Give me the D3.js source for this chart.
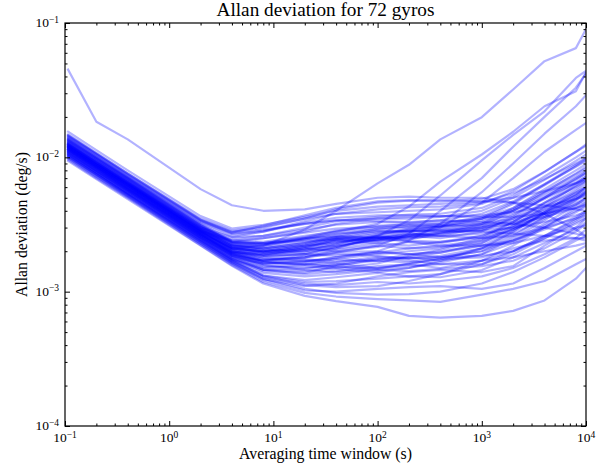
<!DOCTYPE html>
<html>
<head>
<meta charset="utf-8">
<script src="https://cdn.jsdelivr.net/npm/d3@7"></script>
<style>
  body { margin: 0; background: #fff; }
  text { font-family: "Liberation Serif", "DejaVu Serif", serif; fill: #000; }
</style>
</head>
<body>
<div id="chart"></div>
<script>
// averaging times (s)
var taus = [0.107, 0.2, 0.4, 2, 4, 8, 20, 40, 100, 200, 400, 1000, 2000, 4000, 8000, 10000];

// allan deviation per gyro, in mdeg/s
var lowGroup = [
  [9.4, 6.9, 4.9, 2.2, 1.56, 1.15, 0.93, 0.85, 0.77, 0.66, 0.64, 0.66, 0.72, 0.86, 1.25, 1.5],
  [9.6, 7.0, 5.0, 2.22, 1.58, 1.18, 0.98, 0.92, 0.88, 0.86, 0.84, 0.95, 1.05, 1.2, 1.6, 1.75],
  [10.0, 7.3, 5.2, 2.3, 1.64, 1.25, 1.05, 0.98, 0.95, 0.96, 1.0, 1.15, 1.4, 1.8, 2.4, 2.6],
  [9.8, 7.2, 5.1, 2.27, 1.62, 1.22, 1.02, 1.0, 1.05, 1.08, 1.1, 1.05, 1.15, 1.5, 2.0, 2.2],
  [10.3, 7.5, 5.3, 2.38, 1.7, 1.3, 1.12, 1.08, 1.1, 1.2, 1.35, 1.6, 2.0, 2.6, 3.4, 3.8],
  [10.1, 7.4, 5.2, 2.34, 1.66, 1.28, 1.15, 1.12, 1.18, 1.15, 1.2, 1.3, 1.5, 1.9, 2.5, 2.9],
  [10.5, 7.7, 5.4, 2.43, 1.72, 1.32, 1.18, 1.2, 1.25, 1.3, 1.28, 1.45, 1.8, 2.3, 2.9, 3.3],
  [9.9, 7.2, 5.1, 2.29, 1.63, 1.24, 1.1, 1.15, 1.3, 1.4, 1.45, 1.4, 1.55, 2.2, 3.0, 3.5]
];
var midGroupA = [
  [10.2, 7.5, 5.3, 2.36, 1.68, 1.32, 1.22, 1.28, 1.38, 1.3, 1.35, 1.7, 2.2, 3.0, 4.2, 4.6],
  [10.6, 7.7, 5.5, 2.45, 1.76, 1.5, 1.55, 1.48, 1.4, 1.5, 1.65, 1.9, 2.5, 3.4, 4.8, 5.5],
  [10.8, 7.9, 5.6, 2.5, 1.8, 1.46, 1.35, 1.42, 1.55, 1.6, 1.5, 1.7, 2.0, 2.6, 3.5, 3.9],
  [11.0, 8.0, 5.7, 2.54, 1.85, 1.6, 1.62, 1.55, 1.45, 1.5, 1.7, 2.1, 2.8, 3.8, 5.2, 6.0],
  [11.2, 8.2, 5.8, 2.59, 1.88, 1.58, 1.45, 1.4, 1.48, 1.62, 1.75, 1.8, 2.1, 2.4, 2.5, 2.4],
  [10.4, 7.6, 5.4, 2.4, 1.74, 1.42, 1.38, 1.55, 1.75, 1.8, 1.7, 1.9, 2.3, 3.1, 4.0, 4.4],
  [11.4, 8.3, 5.9, 2.63, 1.9, 1.65, 1.7, 1.62, 1.5, 1.55, 1.6, 1.6, 1.9, 2.5, 3.3, 3.6],
  [11.6, 8.5, 6.0, 2.68, 1.92, 1.66, 1.58, 1.66, 1.82, 1.78, 1.8, 2.0, 2.6, 3.6, 5.0, 5.6],
  [10.9, 8.0, 5.6, 2.52, 1.82, 1.52, 1.6, 1.75, 1.68, 1.8, 1.95, 2.2, 2.8, 3.9, 5.6, 6.3],
  [11.1, 8.1, 5.7, 2.56, 1.84, 1.56, 1.5, 1.6, 1.78, 1.7, 1.6, 1.7, 1.8, 2.0, 2.2, 2.3],
  [11.8, 8.6, 6.1, 2.73, 1.96, 1.7, 1.75, 1.68, 1.72, 1.9, 1.95, 2.3, 3.0, 4.2, 5.8, 6.6],
  [12.0, 8.8, 6.2, 2.77, 2.0, 1.75, 1.8, 1.92, 1.85, 1.75, 1.85, 2.1, 2.4, 3.0, 3.9, 4.3],
  [10.7, 7.8, 5.5, 2.47, 1.76, 1.45, 1.42, 1.5, 1.62, 1.85, 2.05, 2.4, 3.1, 4.3, 6.2, 7.0],
  [11.3, 8.3, 5.8, 2.61, 1.88, 1.62, 1.66, 1.8, 1.95, 1.9, 1.8, 1.85, 2.0, 2.5, 3.2, 3.5],
  [12.2, 8.9, 6.3, 2.82, 2.02, 1.78, 1.7, 1.75, 1.9, 2.0, 2.1, 2.5, 3.3, 4.6, 6.4, 7.2],
  [11.5, 8.4, 5.9, 2.66, 1.92, 1.72, 1.85, 1.98, 2.0, 1.9, 2.0, 2.2, 2.3, 2.6, 3.0, 3.1],
  [10.3, 7.5, 5.3, 2.38, 1.7, 1.38, 1.3, 1.35, 1.45, 1.42, 1.48, 1.55, 1.7, 2.1, 2.8, 3.2],
  [12.4, 9.1, 6.4, 2.87, 2.06, 1.85, 1.9, 1.85, 1.95, 2.1, 2.15, 2.3, 2.9, 3.9, 5.3, 5.9],
  [11.7, 8.6, 6.0, 2.7, 1.94, 1.68, 1.6, 1.52, 1.5, 1.6, 1.75, 2.1, 2.7, 3.5, 4.5, 4.9],
  [10.5, 7.7, 5.4, 2.43, 1.74, 1.46, 1.48, 1.58, 1.7, 1.65, 1.8, 2.0, 2.4, 3.2, 4.4, 5.0]
];
var midGroupB = [
  [11.0, 8.0, 5.7, 2.54, 1.9, 1.7, 1.8, 2.05, 2.2, 2.1, 2.2, 2.4, 2.9, 3.8, 5.0, 5.5],
  [11.5, 8.4, 5.9, 2.66, 1.98, 1.9, 2.1, 2.0, 2.15, 2.35, 2.3, 2.6, 3.3, 4.5, 6.1, 6.8],
  [12.0, 8.8, 6.2, 2.77, 2.1, 2.0, 2.2, 2.4, 2.3, 2.2, 2.35, 2.5, 2.9, 3.6, 4.6, 5.0],
  [12.5, 9.1, 6.5, 2.89, 2.15, 1.95, 1.95, 2.15, 2.45, 2.6, 2.5, 2.8, 3.6, 5.0, 7.0, 7.8],
  [11.8, 8.6, 6.1, 2.73, 2.05, 1.95, 2.15, 2.35, 2.5, 2.35, 2.2, 2.2, 2.4, 2.9, 3.6, 4.0],
  [12.8, 9.4, 6.6, 2.96, 2.2, 2.05, 2.0, 2.1, 2.3, 2.55, 2.7, 2.9, 3.5, 4.6, 6.0, 6.6],
  [13.0, 9.5, 6.7, 3.0, 2.25, 2.15, 2.35, 2.5, 2.4, 2.45, 2.7, 3.1, 4.0, 5.5, 7.6, 8.5],
  [11.3, 8.3, 5.8, 2.61, 1.95, 1.85, 2.05, 2.3, 2.55, 2.7, 2.6, 2.7, 3.0, 3.7, 4.8, 5.3],
  [12.2, 8.9, 6.3, 2.82, 2.12, 2.0, 2.1, 2.2, 2.45, 2.7, 2.6, 2.5, 2.6, 3.0, 3.5, 3.7],
  [13.3, 9.7, 6.9, 3.07, 2.3, 2.25, 2.45, 2.6, 2.5, 2.55, 2.75, 3.2, 4.2, 5.8, 8.0, 8.9],
  [12.6, 9.2, 6.5, 2.91, 2.18, 2.1, 2.3, 2.45, 2.7, 2.8, 2.85, 3.0, 3.4, 4.1, 5.2, 5.7],
  [11.6, 8.5, 6.0, 2.68, 2.0, 1.85, 1.9, 2.15, 2.5, 2.8, 2.95, 3.2, 3.8, 4.9, 6.5, 7.2],
  [13.6, 9.9, 7.0, 3.14, 2.35, 2.3, 2.5, 2.55, 2.5, 2.65, 2.8, 2.9, 3.2, 3.9, 4.9, 5.4],
  [12.1, 8.8, 6.3, 2.8, 2.1, 2.0, 2.2, 2.5, 2.75, 2.85, 2.85, 2.8, 2.7, 2.6, 2.5, 2.5],
  [12.9, 9.4, 6.7, 2.98, 2.22, 2.1, 2.2, 2.3, 2.6, 2.9, 3.05, 3.3, 4.0, 5.2, 6.9, 7.6],
  [11.9, 8.7, 6.2, 2.75, 2.05, 1.9, 2.0, 2.25, 2.65, 2.95, 3.05, 3.1, 3.3, 3.8, 4.4, 4.7],
  [13.4, 9.8, 6.9, 3.1, 2.32, 2.25, 2.5, 2.7, 2.8, 2.85, 3.05, 3.5, 4.5, 6.2, 8.6, 9.6],
  [12.4, 9.1, 6.4, 2.87, 2.15, 2.05, 2.25, 2.55, 2.85, 2.8, 2.9, 3.0, 3.2, 3.6, 4.2, 4.5],
  [13.1, 9.6, 6.8, 3.03, 2.26, 2.2, 2.45, 2.7, 2.9, 3.0, 3.1, 3.4, 4.1, 5.4, 7.2, 8.0],
  [12.7, 9.3, 6.6, 2.94, 2.2, 2.1, 2.3, 2.6, 2.95, 3.1, 3.1, 3.2, 3.5, 4.3, 5.5, 6.0],
  [11.4, 8.3, 5.9, 2.64, 1.98, 1.88, 2.1, 2.45, 2.6, 2.4, 2.35, 2.6, 3.1, 4.0, 5.4, 6.0],
  [13.8, 10.1, 7.1, 3.19, 2.4, 2.35, 2.6, 2.8, 3.0, 3.05, 3.2, 3.6, 4.6, 6.3, 8.8, 9.8],
  [12.3, 9.0, 6.4, 2.85, 2.12, 1.98, 2.05, 2.2, 2.4, 2.6, 2.75, 2.85, 3.0, 3.3, 3.7, 3.9],
  [13.5, 9.9, 7.0, 3.12, 2.35, 2.3, 2.55, 2.85, 3.1, 3.15, 3.2, 3.5, 4.2, 5.6, 7.5, 8.3],
  [12.0, 8.8, 6.2, 2.77, 2.08, 1.96, 2.15, 2.4, 2.55, 2.5, 2.6, 3.0, 3.7, 5.0, 6.8, 7.6]
];
var highMid = [
  [12.0, 8.8, 6.2, 2.85, 2.4, 2.5, 2.75, 2.95, 3.05, 3.2, 3.3, 3.5, 4.0, 5.0, 6.4, 7.0],
  [13.7, 10.0, 7.1, 3.22, 2.55, 2.6, 2.9, 3.15, 3.3, 3.25, 3.4, 3.8, 4.7, 6.3, 8.5, 9.4],
  [14.2, 10.4, 7.3, 3.35, 2.7, 2.85, 3.2, 3.4, 3.35, 3.3, 3.4, 3.3, 3.2, 3.0, 2.7, 2.6],
  [11.8, 8.6, 6.1, 2.8, 2.35, 2.5, 2.8, 3.2, 3.5, 3.5, 3.6, 4.0, 5.0, 6.8, 9.4, 10.5],
  [14.5, 10.6, 7.5, 3.42, 2.75, 2.9, 3.2, 3.4, 3.5, 3.6, 3.65, 3.7, 3.9, 4.3, 4.9, 5.2],
  [12.3, 9.0, 6.4, 2.92, 2.45, 2.6, 3.0, 3.35, 3.6, 3.75, 3.8, 4.2, 5.2, 7.2, 10.0, 11.2],
  [14.0, 10.2, 7.2, 3.3, 2.65, 2.8, 3.25, 3.55, 3.7, 3.7, 3.65, 3.6, 3.6, 3.8, 4.2, 4.4],
  [14.8, 10.8, 7.6, 3.5, 2.85, 3.05, 3.5, 3.8, 3.9, 4.0, 4.1, 4.5, 5.6, 7.8, 11.0, 12.2],
  [12.6, 9.2, 6.5, 3.0, 2.55, 2.8, 3.35, 3.8, 4.1, 4.25, 4.3, 4.6, 5.4, 6.9, 9.0, 9.9],
  [15.5, 11.3, 8.0, 3.65, 2.95, 3.15, 3.6, 4.0, 4.3, 4.4, 4.5, 4.7, 5.0, 5.6, 6.4, 6.8],
  [14.6, 10.7, 7.6, 3.45, 2.8, 3.0, 3.5, 4.1, 4.6, 4.75, 4.7, 4.9, 5.8, 7.8, 11.0, 12.5],
  [14.3, 10.5, 7.4, 3.38, 2.75, 3.1, 3.7, 4.2, 4.7, 4.8, 4.8, 4.7, 4.6, 4.4, 4.1, 4.0]
];
var risers = [
  [12.0, 8.8, 6.2, 2.77, 2.1, 2.2, 2.9, 4.0, 6.4, 8.8, 13.6, 19.9, 32.0, 52.0, 65.0, 90.0],
  [11.5, 8.4, 5.9, 2.66, 1.95, 1.8, 1.9, 2.1, 2.6, 3.4, 5.2, 9.5, 14.7, 22.0, 39.0, 44.0],
  [12.6, 9.2, 6.5, 2.91, 2.2, 2.2, 2.5, 2.8, 3.2, 4.3, 6.6, 10.5, 15.5, 24.0, 31.0, 43.0],
  [11.0, 8.0, 5.7, 2.54, 1.85, 1.7, 1.8, 1.95, 2.2, 2.7, 4.0, 7.0, 12.0, 20.0, 33.0, 42.0],
  [10.8, 7.9, 5.6, 2.5, 1.8, 1.62, 1.68, 1.8, 2.0, 2.4, 3.2, 5.5, 9.0, 15.0, 24.0, 29.0],
  [13.2, 9.7, 6.8, 3.05, 2.3, 2.3, 2.4, 2.45, 2.4, 2.6, 3.0, 4.6, 7.0, 11.0, 16.0, 18.0]
];
var outlier = [
  [45.0, 18.4, 13.6, 5.8, 4.4, 4.0, 4.1, 4.5, 5.0, 5.1, 5.0, 5.0, 4.6, 3.8, 2.9, 2.6]
];

var xTickExps = [-1, 0, 1, 2, 3, 4];
var yTickExps = [-4, -3, -2, -1];
var mdeg = 1e-3;

var gyros = [].concat(outlier, lowGroup, midGroupA, midGroupB, highMid, risers);

var W = 607, H = 466;
var margin = {top: 23, right: 21, bottom: 40, left: 65},
    width = W - margin.left - margin.right,
    height = H - margin.top - margin.bottom;

var svg = d3.select("#chart").append("svg")
    .attr("width", W)
    .attr("height", H);

var x = d3.scaleLog().domain([1e-1, 1e4]).range([0, width]);
var y = d3.scaleLog().domain([1e-4, 1e-1]).range([height, 0]);

var g = svg.append("g")
    .attr("transform", "translate(" + margin.left + "," + margin.top + ")");

g.append("clipPath").attr("id", "clip")
  .append("rect").attr("width", width).attr("height", height);

var line = d3.line()
    .x(function (d) { return x(d[0]); })
    .y(function (d) { return y(d[1] * mdeg); });

g.append("g").attr("clip-path", "url(#clip)")
  .selectAll("path")
  .data(gyros)
  .enter().append("path")
    .attr("d", function (vals) {
        return line(vals.map(function (v, i) { return [taus[i], v]; }));
    })
    .attr("fill", "none")
    .attr("stroke", "#0000ff")
    .attr("stroke-opacity", 0.3)
    .attr("stroke-width", 2.2)
    .attr("stroke-linejoin", "round")
    .attr("stroke-linecap", "square");

// minor / major tick positions
function minors(lo, hi) {
    var out = [];
    for (var e = lo; e < hi; e++)
        for (var k = 2; k <= 9; k++) out.push(k * Math.pow(10, e));
    return out;
}
var xMajor = xTickExps.map(function (e) { return Math.pow(10, e); });
var yMajor = yTickExps.map(function (e) { return Math.pow(10, e); });
var xMinor = minors(-1, 4), yMinor = minors(-4, -1);

function tickAxis(axisFn, scale, vals, size, tx, ty) {
    var a = axisFn(scale).tickValues(vals).tickSizeInner(-size).tickSizeOuter(0).tickFormat("");
    var sel = g.append("g").attr("transform", "translate(" + tx + "," + ty + ")").call(a);
    sel.select(".domain").remove();
    sel.selectAll("line").attr("stroke", "#000").attr("stroke-width", 1);
}
tickAxis(d3.axisBottom, x, xMajor, 5, 0, height);
tickAxis(d3.axisBottom, x, xMinor, 2.5, 0, height);
tickAxis(d3.axisTop, x, xMajor, 5, 0, 0);
tickAxis(d3.axisTop, x, xMinor, 2.5, 0, 0);
tickAxis(d3.axisLeft, y, yMajor, 5, 0, 0);
tickAxis(d3.axisLeft, y, yMinor, 2.5, 0, 0);
tickAxis(d3.axisRight, y, yMajor, 5, width, 0);
tickAxis(d3.axisRight, y, yMinor, 2.5, width, 0);

g.append("rect")
    .attr("width", width).attr("height", height)
    .attr("fill", "none").attr("stroke", "#000").attr("stroke-width", 1.2);

// power-of-ten labels
function powLabel(sel, e) {
    sel.append("tspan").text("10");
    sel.append("tspan").attr("dy", "-0.45em").attr("font-size", "9.5px")
        .text(e < 0 ? "\u2212" + (-e) : String(e));
}
xTickExps.forEach(function (e) {
    var t = g.append("text")
        .attr("x", x(Math.pow(10, e)))
        .attr("y", height + 16)
        .attr("text-anchor", "middle")
        .attr("font-size", "13.5px");
    powLabel(t, e);
});
yTickExps.forEach(function (e) {
    var t = g.append("text")
        .attr("x", -6)
        .attr("y", y(Math.pow(10, e)) + 4)
        .attr("text-anchor", "end")
        .attr("font-size", "13.5px");
    powLabel(t, e);
});

function fitText(t, target) {
    var fs = parseFloat(t.attr("font-size"));
    var w = t.node().getComputedTextLength();
    t.attr("font-size", (fs * target / w).toFixed(2) + "px");
}

var title = svg.append("text")
    .attr("x", margin.left + width / 2).attr("y", 16)
    .attr("text-anchor", "middle").attr("font-size", "16px")
    .text("Allan deviation for 72 gyros");
fitText(title, 218);

var xl = svg.append("text")
    .attr("x", margin.left + width / 2).attr("y", 459)
    .attr("text-anchor", "middle").attr("font-size", "14px")
    .text("Averaging time window (s)");
fitText(xl, 173);

var yl = svg.append("text")
    .attr("transform", "translate(27," + (margin.top + height / 2) + ") rotate(-90)")
    .attr("text-anchor", "middle").attr("font-size", "14px")
    .text("Allan deviation (deg/s)");
fitText(yl, 145);
</script>
</body>
</html>
